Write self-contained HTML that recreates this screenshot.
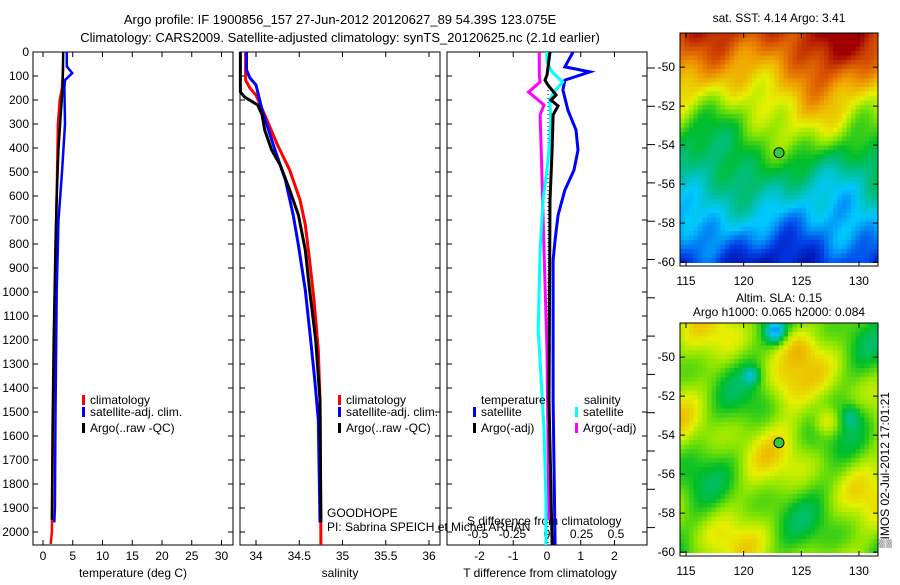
<!DOCTYPE html>
<html><head><meta charset="utf-8">
<style>
body{margin:0;background:#fff;width:900px;height:580px;overflow:hidden;font-family:"Liberation Sans",sans-serif;}
svg text{font-family:"Liberation Sans",sans-serif;font-size:12px;fill:#000;}
</style></head>
<body>
<svg id="chart" width="900" height="580" xmlns="http://www.w3.org/2000/svg">
<text x="340" y="24" text-anchor="middle" style="font-size:13px">Argo profile: IF 1900856_157 27-Jun-2012 20120627_89 54.39S 123.075E</text>
<text x="340" y="42" text-anchor="middle" style="font-size:13px">Climatology: CARS2009. Satellite-adjusted climatology: synTS_20120625.nc (2.1d earlier)</text>
<g id="panels"></g>
<g id="maps"></g>
<text x="0" y="0" transform="translate(889,548) rotate(-90)">▒IMOS 02-Jul-2012 17:01:21</text>
</svg>
<script>
// ---- data (depth m, value) ----
const tempClimDepth=[60,150,200,300,600,1000,1500,2000,2050];
const tempClimVal=[3.4,3.2,2.8,2.5,2.3,2.0,1.7,1.5,1.3];
const tempSatDepth=[0,60,88,117,150,300,500,700,1000,1500,1900,1960];
const tempSatVal=[4.0,4.0,4.9,3.7,3.6,3.7,3.2,2.6,2.3,2.1,2.0,1.9];
const tempArgoDepth=[0,150,250,400,600,800,1200,1600,1950];
const tempArgoVal=[3.4,3.3,3.0,2.6,2.3,2.1,1.8,1.6,1.5];

const salClimDepth=[0,117,150,180,262,388,492,617,720,867,1033,1242,1450,2054];
const salClimVal=[33.88,33.88,33.93,34.0,34.1,34.25,34.39,34.51,34.57,34.62,34.67,34.72,34.74,34.75];
const salSatDepth=[0,75,108,137,242,408,533,679,804,992,1158,1367,1533,1960];
const salSatVal=[33.89,33.89,33.93,34.0,34.07,34.22,34.34,34.43,34.49,34.57,34.62,34.68,34.72,34.74];
const salArgoDepth=[0,167,188,221,262,325,408,471,575,679,825,992,1200,1450,1960];
const salArgoVal=[33.82,33.82,33.87,34.02,34.07,34.1,34.18,34.28,34.39,34.49,34.57,34.62,34.69,34.74,34.75];

const tdSatDepth=[0,62,83,117,158,242,325,408,492,575,679,783,867,1450,2054];
const tdSatVal=[0.77,0.53,1.27,0.53,0.47,0.62,0.86,0.92,0.8,0.53,0.33,0.24,0.18,0.18,0.24];
const tdArgoDepth=[0,96,117,138,179,200,225,262,408,617,1450,2054];
const tdArgoVal=[0.09,0,-0.06,0.03,0.27,0.12,0.33,0.18,0.15,0.09,0.06,0.15];
const sdSatDepth=[0,42,83,125,167,200,283,450,617,825,1158,1367,1575,1867,2054];
const sdSatVal=[0,0,0.036,0.114,0.05,0.02,0.028,0.008,-0.028,-0.05,-0.064,-0.042,-0.022,-0.008,-0.008];
const sdArgoDepth=[0,96,125,167,200,221,262,408,825,1242,1950];
const sdArgoVal=[-0.056,-0.056,-0.05,-0.134,-0.064,-0.022,-0.05,-0.042,-0.022,0,0.014];

const depthTicks=[0,100,200,300,400,500,600,700,800,900,1000,1100,1200,1300,1400,1500,1600,1700,1800,1900,2000];
const tempTicks=[0,5,10,15,20,25,30];
const salTicks=[34,34.5,35,35.5,36];
const salTickLabels=["34","34.5","35","35.5","36"];
const tdTicks=[-2,-1,0,1,2];
const sdTicks=[-0.5,-0.25,0,0.25,0.5];
const sdTickLabels=["-0.5","-0.25","0","0.25","0.5"];

const NS="http://www.w3.org/2000/svg";
function mk(tag,attrs,parent){const e=document.createElementNS(NS,tag);for(const k in attrs)e.setAttribute(k,attrs[k]);parent.appendChild(e);return e;}
const TOP=52, BOT=545, PY=0.24;
const yD=d=>TOP+d*PY;
const xT=v=>43+v*5.95;
const xS=v=>256+(v-34)*86.5;
const xTD=v=>547+v*33.75;
const xSD=v=>547+v*138;
const panels=document.getElementById('panels');

function panelBox(x0,name){
  const r=mk('rect',{x:x0,y:TOP,width:200,height:BOT-TOP,fill:'none',stroke:'#000','stroke-width':1},panels);
  
  
}
function line(ds,vs,fx,color,w,name){
  const pts=ds.map((d,i)=>fx(vs[i]).toFixed(1)+','+yD(d).toFixed(1)).join(' ');
  const p=mk('polyline',{points:pts,fill:'none',stroke:color,'stroke-width':w},panels);
  
  
}
function xticks(vals,labels,fx,name,ly){
  vals.forEach((v,i)=>{
    const x=fx(v);
    mk('line',{x1:x,x2:x,y1:TOP,y2:TOP+5,stroke:'#000'},panels);
    mk('line',{x1:x,x2:x,y1:BOT,y2:BOT-5,stroke:'#000'},panels);
    const t=mk('text',{x:x,y:ly,'text-anchor':'middle'},panels);
    t.textContent=labels[i];
    
    
  });
}
function label(x,y,s,name,anchor){
  const t=mk('text',{x:x,y:y,'text-anchor':anchor||'start'},panels);t.textContent=s;
  
  
}
function legend(x,y,color,s,name){
  const r=mk('rect',{x:x,y:y-9,width:3,height:10,fill:color},panels);
  
  
  label(x+8,y,s,name);
}
[33,240,447].forEach((x0,i)=>panelBox(x0,'panel-'+(i+1)));
depthTicks.forEach(d=>{
  const y=yD(d);
  [33,240,447].forEach(x0=>{
    mk('line',{x1:x0,x2:x0+5,y1:y,y2:y,stroke:'#000'},panels);
    mk('line',{x1:x0+200,x2:x0+195,y1:y,y2:y,stroke:'#000'},panels);
  });
  const t=mk('text',{x:29,y:y+4,'text-anchor':'end'},panels);t.textContent=d;
  
  
});
for(let y=68;y<545;y+=38.3){mk('line',{x1:647,x2:655,y1:y,y2:y,stroke:'#000'},panels);}
xticks(tempTicks,tempTicks.map(String),xT,'temperature',560);
xticks(salTicks,salTickLabels,xS,'salinity',560);
xticks(tdTicks,tdTicks.map(String),xTD,'t-diff',560);
sdTicks.forEach((v,i)=>{const t=mk('text',{x:xSD(v),y:538,'text-anchor':'middle'},panels);t.textContent=sdTickLabels[i];
  
  });
label(133,577,'temperature (deg C)','x-axis-title-temperature','middle');
label(340,577,'salinity','x-axis-title-salinity','middle');
label(540,577,'T difference from climatology','x-axis-title-t-diff','middle');
label(467,525,'S difference from climatology','s-diff-axis-title');
const z=mk('line',{x1:548,x2:548,y1:90,y2:545,stroke:'#000','stroke-dasharray':'1,3'},panels);

line(tempClimDepth,tempClimVal,xT,'#f00',2.5,'temp-climatology-line');
line(tempArgoDepth,tempArgoVal,xT,'#000',2.5,'temp-argo-line');
line(tempSatDepth,tempSatVal,xT,'#00f',2.5,'temp-satellite-line');
line(salClimDepth,salClimVal,xS,'#f00',3,'sal-climatology-line');
line(salSatDepth,salSatVal,xS,'#00f',3,'sal-satellite-line');
line(salArgoDepth,salArgoVal,xS,'#000',3,'sal-argo-line');
line(tdSatDepth,tdSatVal,xTD,'#00f',3,'tdiff-satellite-line');
line(sdArgoDepth,sdArgoVal,xSD,'#f0f',3,'sdiff-argo-line');
line(sdSatDepth,sdSatVal,xSD,'#0ff',3,'sdiff-satellite-line');
line(tdArgoDepth,tdArgoVal,xTD,'#000',3,'tdiff-argo-line');
legend(82,404,'#f00','climatology','legend-climatology');
legend(82,416,'#00f','satellite-adj. clim.','legend-satellite');
legend(82,432,'#000','Argo(..raw -QC)','legend-argo');
legend(338,404,'#f00','climatology','legend2-climatology');
legend(338,416,'#00f','satellite-adj. clim.','legend2-satellite');
legend(338,432,'#000','Argo(..raw -QC)','legend2-argo');
label(481,404,'temperature','legend3-temperature-header');
label(584,404,'salinity','legend3-salinity-header');
legend(473,416,'#00f','satellite','legend3-t-satellite');
legend(473,432,'#000','Argo(-adj)','legend3-t-argo');
legend(575,416,'#0ff','satellite','legend3-s-satellite');
legend(575,432,'#f0f','Argo(-adj)','legend3-s-argo');
label(327,517,'GOODHOPE','project-label');
label(327,531,'PI: Sabrina SPEICH et Michel ARHAN','pi-label');

// ---- maps ----
const maps=document.getElementById('maps');
const cmapStops=[[0,0,0,140],[0.12,0,60,230],[0.25,0,200,255],[0.37,0,190,140],[0.47,0,190,40],[0.58,140,230,0],[0.66,230,240,0],[0.78,240,160,0],[0.88,220,90,0],[1,160,0,0]];
function cmap(v){v=Math.max(0,Math.min(1,v));
  for(let i=1;i<cmapStops.length;i++){const a=cmapStops[i-1],b=cmapStops[i];
    if(v<=b[0]){const t=(v-a[0])/(b[0]-a[0]);
      return 'rgb('+[1,2,3].map(k=>Math.round(a[k]+(b[k]-a[k])*t)).join(',')+')';}}
  return 'rgb(160,0,0)';}
const gs=(u,v,cu,cv,s)=>Math.exp(-((u-cu)*(u-cu)+(v-cv)*(v-cv))/(s*s));
function drawMap(y0,y1,field,name){
  const g=mk('g',{},maps);
  const cs=4.5;
  for(let x=680;x<878;x+=cs)for(let y=y0;y<y1-4;y+=cs){
    const u=(x-680)/198,v=(y-y0)/(y1-4-y0);
    mk('rect',{x:x,y:y,width:cs+0.5,height:cs+0.5,fill:cmap(field(u,v))},g);}
  mk('rect',{x:680,y:y0,width:198,height:y1-y0,fill:'none',stroke:'#000'},g);
  const latTop=-48.25, pxPerLat=(y1-y0)/(60.2-48.25);
  [-50,-52,-54,-56,-58,-60].forEach(l=>{
    const yy=y0+(latTop-l)*pxPerLat;
    mk('line',{x1:680,x2:685,y1:yy,y2:yy,stroke:'#000'},g);mk('line',{x1:878,x2:873,y1:yy,y2:yy,stroke:'#000'},g);
    const t=mk('text',{x:675,y:yy+4,'text-anchor':'end'},g);t.textContent=l;
    });
  [115,120,125,130].forEach(l=>{const x=686+(l-115)*11.53;
    mk('line',{x1:x,x2:x,y1:y1,y2:y1-5,stroke:'#000'},g);mk('line',{x1:x,x2:x,y1:y0,y2:y0+5,stroke:'#000'},g);
    const t=mk('text',{x:x,y:y1+19,'text-anchor':'middle'},g);t.textContent=l;
    });
  const c=mk('circle',{cx:779,cy:y0+(54.39-48.25)*pxPerLat,r:5,fill:'#3c3',stroke:'#000'},g);
  
}
drawMap(33,266,(u,v)=>{
  return 0.9-0.82*v+0.04*Math.sin(u*9+v*7)+0.03*Math.sin(u*17-v*13)+0.025*Math.sin(u*31+v*23)
   +0.12*gs(u,v,0.75,0.05,0.2)-0.1*gs(u,v,0.1,0.4,0.15)+0.08*gs(u,v,0.7,0.4,0.15)-0.06*gs(u,v,0.85,0.65,0.15);},'sst-map');
drawMap(323,556,(u,v)=>{
  return 0.57+0.07*Math.sin(u*11+v*5)+0.07*Math.sin(u*5-v*14+1)+0.03*Math.sin(u*23+v*19)
   +0.2*gs(u,v,0.73,0.42,0.07)+0.1*gs(u,v,0.52,0.28,0.1)+0.08*gs(u,v,0.6,0.1,0.08)-0.3*gs(u,v,0.47,0.03,0.05)-0.18*gs(u,v,0.35,0.22,0.04)-0.15*gs(u,v,0.85,0.4,0.05);},'sla-map');
const t1=mk('text',{x:779,y:22,'text-anchor':'middle'},maps);t1.textContent='sat. SST: 4.14 Argo: 3.41';

const t2=mk('text',{x:779,y:302,'text-anchor':'middle'},maps);t2.textContent='Altim. SLA: 0.15';

const t3=mk('text',{x:779,y:316,'text-anchor':'middle'},maps);t3.textContent='Argo h1000: 0.065 h2000: 0.084';

</script>
</body></html>
